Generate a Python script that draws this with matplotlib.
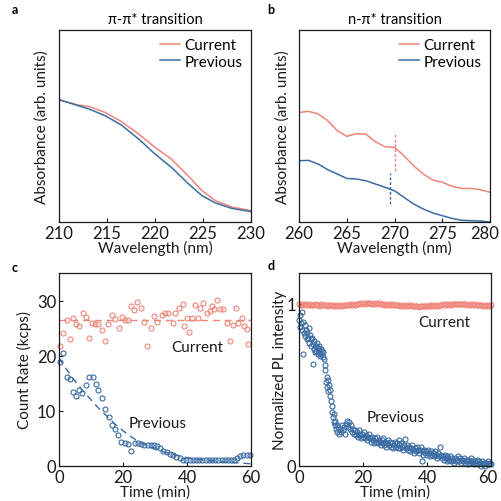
import numpy as np
import matplotlib
matplotlib.use("Agg")
import matplotlib.pyplot as plt
from matplotlib.transforms import ScaledTranslation

RED, BLUE, INK = "#F0857A", "#3A6CA3", "#1A1A1A"
plt.rcParams["font.family"] = ["Lato", "DejaVu Sans"]

# ---- a: pi-pi* absorbance (arb. units, 0..1 of axis) ----
wl_a = [210, 212, 213.1, 214.8, 216.5, 218.3, 220, 221.7, 223.5, 224.9, 226.3, 228, 230]
abs_a_cur = [0.637, 0.609, 0.602, 0.571, 0.523, 0.458, 0.389, 0.328, 0.238, 0.163, 0.111, 0.078, 0.059]
abs_a_prev = [0.637, 0.606, 0.589, 0.554, 0.505, 0.432, 0.354, 0.285, 0.198, 0.137, 0.099, 0.071, 0.054]

# ---- b: n-pi* absorbance ----
wl_b = list(range(260, 281))
abs_b_cur = [0.571, 0.576, 0.563, 0.528, 0.476, 0.446, 0.460, 0.458, 0.418, 0.392, 0.389,
             0.345, 0.293, 0.250, 0.219, 0.207, 0.186, 0.175, 0.175, 0.168, 0.155]
abs_b_prev = [0.319, 0.321, 0.302, 0.273, 0.250, 0.227, 0.224, 0.215, 0.198, 0.181, 0.163,
              0.128, 0.094, 0.068, 0.047, 0.033, 0.019, 0.009, 0.007, 0.005, 0.000]
peak_cur = (270.1, 0.267, 0.458)
peak_prev = (269.5, 0.094, 0.255)

# ---- c: count rate (kcps) ----
t_c_cur = [0.3, 1.3, 2.6, 3.4, 4.5, 5.3, 6.3, 7.6, 8.4, 9.5, 10.4, 11.3, 12.3, 13.5, 14.4,
           15.4, 16.7, 17.5, 18.6, 19.6, 20.7, 21.5, 22.5, 23.5, 24.4, 25.7, 26.5, 27.4, 28.7, 29.7,
           30.7, 32.1, 33.1, 34.2, 35.5, 36.3, 37.6, 38.7, 39.2, 39.9, 40.6, 41.5, 42.5, 43.5, 44.1,
           45.1, 46.2, 47.2, 47.8, 48.4, 49.5, 50.3, 51.3, 52.4, 53.4, 54.5, 55.3, 56.0, 57.1, 57.8,
           58.7, 59.2]
rate_cur = [21.8, 24.2, 26.5, 23.1, 26.9, 25.8, 25.4, 27.7, 27.0, 23.3, 26.0, 25.7, 25.8, 24.6, 22.6,
            25.8, 27.4, 26.6, 25.1, 27.0, 26.5, 26.5, 29.0, 28.3, 29.7, 28.7, 26.2, 21.8, 25.1, 27.2,
            26.2, 27.4, 27.7, 27.7, 26.0, 27.7, 28.7, 29.4, 25.3, 26.8, 24.3, 26.9, 29.2, 26.8, 28.7,
            29.5, 27.7, 28.1, 29.0, 28.4, 30.1, 28.4, 28.4, 26.0, 22.7, 25.5, 28.6, 26.0, 26.8, 25.4,
            24.8, 22.1]
rate_cur_mean = 26.4
t_c_prev = [0.3, 1.3, 2.4, 3.4, 4.5, 5.3, 6.3, 7.3, 8.4, 9.4, 10.5, 11.5, 12.3, 13.5, 14.5,
            15.5, 16.6, 17.4, 18.5, 19.5, 20.5, 21.6, 22.6, 23.6, 24.6, 25.7, 26.7, 27.7, 28.7, 29.7,
            30.6, 31.6, 32.6, 33.6, 34.6, 35.7, 36.7, 37.7, 38.8, 39.8, 40.8, 41.8, 42.8, 43.8, 44.8,
            45.8, 46.8, 47.8, 48.8, 49.8, 50.8, 51.8, 52.8, 53.8, 54.8, 55.6, 56.6, 57.6, 58.6, 59.6]
rate_prev = [18.8, 20.5, 16.2, 15.8, 13.4, 12.7, 13.8, 13.2, 14.7, 16.2, 16.2, 14.8, 13.8, 12.3, 10.3,
             8.8, 7.5, 6.7, 5.6, 4.4, 4.2, 4.0, 2.8, 4.2, 4.2, 4.0, 3.8, 3.8, 3.8, 3.8,
             3.6, 3.2, 2.8, 2.5, 2.2, 2.0, 1.7, 1.4, 1.1, 1.0, 1.1, 1.0, 1.1, 1.0, 1.1,
             1.1, 1.0, 1.1, 1.0, 1.1, 1.1, 1.0, 1.1, 1.0, 1.0, 1.4, 1.8, 2.0, 2.0, 2.0]
t_c_fit = [0, 2.5, 5, 7.5, 10, 12.5, 15, 17.5, 20, 22.5, 25, 30, 35, 40, 45, 50, 55, 60]
rate_prev_fit = [19.6, 17.4, 15.4, 13.6, 12.0, 10.4, 9.0, 7.6, 6.4, 5.3, 4.4, 3.0, 2.2, 1.5,
                 1.1, 0.8, 0.6, 0.4]

# ---- d: normalized PL intensity ----
t_d_cur = np.arange(0, 60.01, 0.5)
pl_cur = [1.000, 0.994, 0.998, 0.991, 0.996, 0.993, 0.999, 0.990, 0.995, 0.992,
          0.997, 0.991, 0.994, 0.989, 0.996, 0.992, 0.990, 0.995, 0.988, 0.993,
          0.990, 0.986, 0.992, 0.988, 0.991, 0.987, 0.993, 0.989, 0.992, 0.990,
          0.994, 0.991, 0.996, 0.993, 0.998, 0.995, 1.000, 0.997, 1.002, 0.998,
          1.004, 1.000, 1.006, 1.002, 1.005, 1.001, 1.004, 0.999, 1.003, 1.000,
          1.002, 0.997, 1.000, 0.995, 0.998, 0.993, 0.997, 0.992, 0.996, 0.991,
          0.995, 0.990, 0.994, 0.989, 0.993, 0.988, 0.992, 0.987, 0.991, 0.988,
          0.990, 0.985, 0.989, 0.984, 0.988, 0.983, 0.987, 0.985, 0.989, 0.986,
          0.988, 0.984, 0.990, 0.986, 0.991, 0.987, 0.993, 0.989, 0.994, 0.991,
          0.996, 0.992, 0.998, 0.994, 0.999, 0.995, 1.000, 0.996, 1.001, 0.997,
          1.000, 0.996, 1.001, 0.997, 0.999, 0.995, 0.998, 0.994, 0.997, 0.993,
          0.996, 0.992, 0.995, 0.990, 0.994, 0.989, 0.993, 0.988, 0.992, 0.989,
          0.990]
t_d_prev = [0.0, 0.2, 0.4, 0.6, 0.8, 1.0, 1.2, 1.4, 1.6, 1.8, 2.0, 2.2, 2.4, 2.6, 2.8, 3.0, 3.2,
            3.4, 3.6, 3.8, 4.0, 4.3, 4.4, 4.6, 4.8, 5.0, 5.2, 5.4, 5.6, 5.8, 6.0, 6.2, 6.4, 6.6,
            6.8, 7.0, 7.2, 7.4, 7.6, 7.8, 8.0, 8.2, 8.4, 8.6, 8.8, 9.0, 9.2, 9.4, 9.6, 9.8, 10.0,
            10.2, 10.4, 10.6, 10.8, 11.0, 11.2, 11.4, 11.6, 11.8, 12.0,
            12.3, 12.6, 12.9, 13.2, 13.5, 13.8, 14.1, 14.4, 14.7, 15.0, 15.3, 15.6, 15.9, 16.2,
            16.5, 16.8, 17.1, 17.4, 17.7, 18.0, 18.3, 18.6, 18.9, 19.2, 19.5, 19.8, 20.1, 20.4,
            20.7, 21.0, 21.3, 21.6, 21.9, 22.2, 22.5, 22.8, 23.1, 23.4, 23.7, 24.0, 24.3, 24.6,
            24.9, 25.2, 25.5, 25.8, 26.1, 26.4, 26.7, 27.0, 27.3, 27.6, 27.9, 28.2, 28.5, 28.8,
            29.1, 29.4, 29.7, 30.0, 30.3, 30.6, 30.9, 31.1, 31.4, 31.7, 32.0, 32.3, 32.6, 32.9,
            33.2, 33.5, 33.8, 34.1, 34.4, 34.7, 35.0, 35.3, 35.6, 35.9, 36.2, 36.5, 36.8, 37.1,
            37.4, 37.7, 38.0, 38.3, 38.6, 38.9, 39.2, 39.5, 39.8, 40.1, 40.4, 40.7, 41.0, 41.3,
            41.6, 41.9, 42.2, 42.5, 42.8, 43.1, 43.4, 43.7, 44.0, 44.3, 44.6, 44.9, 45.2, 45.5,
            45.8, 46.1, 46.4, 46.7, 47.0, 47.3, 47.6, 47.9, 48.2, 48.5, 48.8, 49.1, 49.4, 49.7,
            50.0, 50.3, 50.6, 50.9, 51.2, 51.5, 51.8, 52.1, 52.4, 52.7, 53.0, 53.3, 53.6, 53.9,
            54.2, 54.5, 54.8, 55.1, 55.4, 55.7, 56.0, 56.3, 56.6, 56.9, 57.2, 57.5, 57.8, 58.1,
            58.4, 58.7, 59.0, 59.3, 59.6, 59.9]
pl_prev = [0.90, 0.86, 0.93, 0.88, 0.95, 0.84, 0.89, 0.69, 0.82, 0.87, 0.80, 0.84, 0.78, 0.82,
           0.79, 0.85, 0.76, 0.81, 0.78, 0.74, 0.79, 0.63, 0.75, 0.72, 0.77, 0.70, 0.74, 0.71,
           0.76, 0.69, 0.73, 0.70, 0.74, 0.68, 0.72, 0.69, 0.71, 0.67, 0.70, 0.66, 0.62, 0.59,
           0.52, 0.55, 0.49, 0.53, 0.46, 0.50, 0.43, 0.47, 0.40, 0.37, 0.33, 0.30, 0.32, 0.27,
           0.25, 0.28, 0.23, 0.25, 0.21,
           0.24, 0.20, 0.23, 0.21, 0.25, 0.22, 0.24, 0.20, 0.26, 0.28, 0.24, 0.27, 0.23, 0.25,
           0.21, 0.23, 0.20, 0.22, 0.19, 0.21, 0.18, 0.20, 0.22, 0.19, 0.17, 0.20, 0.18, 0.21,
           0.17, 0.19, 0.16, 0.18, 0.20, 0.17, 0.15, 0.18, 0.16, 0.14, 0.17, 0.15, 0.18, 0.14,
           0.16, 0.15, 0.13, 0.16, 0.14, 0.17, 0.13, 0.15, 0.12, 0.14, 0.16, 0.13, 0.15, 0.12,
           0.14, 0.11, 0.13, 0.15, 0.12, 0.14, 0.11, 0.16, 0.13, 0.11, 0.14, 0.12, 0.10, 0.13,
           0.165, 0.11, 0.13, 0.10, 0.12, 0.09, 0.11, 0.13, 0.10, 0.08, 0.11, 0.09, 0.12, 0.10,
           0.08, 0.10, 0.12, 0.033, 0.09, 0.07, 0.10, 0.08, 0.09, 0.07, 0.10, 0.08, 0.06, 0.09,
           0.07, 0.08, 0.06, 0.09, 0.07, 0.05, 0.08, 0.06, 0.115, 0.07, 0.05, 0.06, 0.04, 0.07,
           0.05, 0.06, 0.03, 0.05, 0.04, 0.06, 0.03, 0.05, 0.04, 0.02, 0.05, 0.03, 0.04, 0.06,
           0.03, 0.05, 0.02, 0.04, 0.03, 0.05, 0.02, 0.04, 0.03, 0.01, 0.04, 0.02, 0.03, 0.05,
           0.02, 0.03, 0.01, 0.03, 0.02, 0.04, 0.01, 0.03, 0.02, 0.00, 0.03, 0.01, 0.02, 0.00,
           0.02, 0.01, 0.03, 0.01, 0.02, 0.01]

W = 502
fig = plt.figure(figsize=(5.02, 5.02), dpi=100)


def axes_at(left, top, w, h):
    return fig.add_axes([left / W, 1 - (top + h) / W, w / W, h / W])


def style(ax, ylab, xlab, ylab_x):
    for s in ax.spines.values():
        s.set_linewidth(0.9)
        s.set_color(INK)
    ax.tick_params(direction="in", length=3, width=0.8, labelsize=12, pad=2,
                   colors=INK, top=False, right=False)
    ax.set_ylabel(ylab, fontsize=11, color=INK)
    ax.set_xlabel(xlab, fontsize=11, color=INK)
    ax.yaxis.set_label_coords(ylab_x, 0.5)
    ax.xaxis.set_label_coords(0.5, -0.095)


def nudge_last_xlabel(ax, px):
    lab = ax.xaxis.get_major_ticks()[-1].label1
    lab.set_transform(lab.get_transform() + ScaledTranslation(px / 100, 0, fig.dpi_scale_trans))


def letter(x, y, s):
    fig.text(x / W, 1 - y / W, s, fontsize=9, fontweight="bold", ha="center", va="center")


mk = dict(ls="none", marker="o", mfc="none", ms=3.6, mew=0.8, clip_on=False)

# ---------- a ----------
ax = axes_at(59, 31, 192, 192)
ax.plot(wl_a, abs_a_cur, color=RED, lw=1.1, label="Current")
ax.plot(wl_a, abs_a_prev, color=BLUE, lw=1.1, label="Previous")
ax.set_xlim(210, 230)
ax.set_ylim(0, 1)
ax.set_xticks([210, 215, 220, 225, 230])
ax.set_yticks([])
ax.set_title("π-π* transition", fontsize=10.5, pad=5)
style(ax, "Absorbance (arb. units)", "Wavelength (nm)", -0.056)
ax.legend(loc="upper right", frameon=False, fontsize=11, handlelength=1.3,
          handletextpad=0.3, borderaxespad=0.15, labelspacing=0.15)
letter(15, 10, "a")

# ---------- b ----------
ax = axes_at(299, 31, 191, 192)
ax.plot(wl_b, abs_b_cur, color=RED, lw=1.1, label="Current")
ax.plot(wl_b, abs_b_prev, color=BLUE, lw=1.1, label="Previous")
ax.plot([peak_cur[0]] * 2, peak_cur[1:], color=RED, lw=1, ls=(0, (2, 1.5)))
ax.plot([peak_prev[0]] * 2, peak_prev[1:], color=BLUE, lw=1, ls=(0, (2, 1.5)))
ax.set_xlim(260, 280)
ax.set_ylim(0, 1)
ax.set_xticks([260, 265, 270, 275, 280])
ax.set_yticks([])
ax.set_title("n-π* transition", fontsize=10.5, pad=5)
style(ax, "Absorbance (arb. units)", "Wavelength (nm)", -0.05)
nudge_last_xlabel(ax, -5)
ax.legend(loc="upper right", frameon=False, fontsize=11, handlelength=1.3,
          handletextpad=0.3, borderaxespad=0.15, labelspacing=0.15)
letter(271, 10, "b")

# ---------- c ----------
ax = axes_at(59, 274, 192, 193)
ax.plot(t_c_cur, rate_cur, mec=RED, **mk)
ax.plot([0, 60], [rate_cur_mean] * 2, color=RED, lw=1, ls=(0, (5, 3.5)))
ax.plot(t_c_prev, rate_prev, mec=BLUE, **mk)
ax.plot(t_c_fit, rate_prev_fit, color=BLUE, lw=1, ls=(0, (5, 3.5)))
ax.set_xlim(0, 60)
ax.set_ylim(0, 35)
ax.set_xticks([0, 20, 40, 60])
ax.set_yticks([0, 10, 20, 30])
ax.text(43.1, 21.6, "Current", fontsize=11, ha="center", va="center", color=INK)
ax.text(30.8, 7.8, "Previous", fontsize=11, ha="center", va="center", color=INK)
style(ax, "Count Rate (kcps)", "Time (min)", -0.14)
letter(15, 268, "c")

# ---------- d ----------
ax = axes_at(299, 274, 192, 193)
ax.plot(t_d_cur, pl_cur, mec=RED, **mk)
ax.plot(t_d_prev, pl_prev, mec=BLUE, **mk)
ax.set_xlim(0, 60)
ax.set_ylim(0, 1.19)
ax.set_xticks([0, 20, 40, 60])
ax.set_yticks([0, 1])
ax.text(45.4, 0.89, "Current", fontsize=11, ha="center", va="center", color=INK)
ax.text(30.3, 0.30, "Previous", fontsize=11, ha="center", va="center", color=INK)
style(ax, "Normalized PL intensity", "Time (min)", -0.065)
nudge_last_xlabel(ax, -3)
letter(271, 266, "d")

fig.savefig("out.png", dpi=100)
